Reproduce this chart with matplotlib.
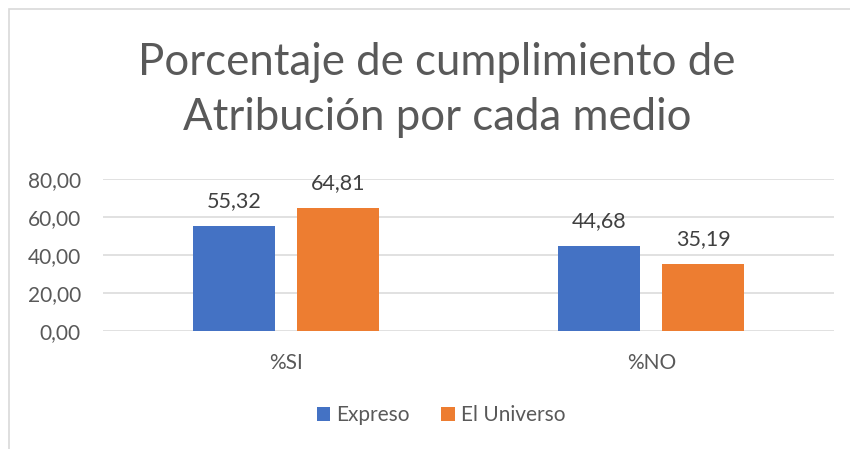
import numpy as np
import matplotlib
matplotlib.use('Agg')
import matplotlib.pyplot as plt
from matplotlib.patches import Rectangle

plt.rcParams['font.family'] = ['Lato', 'DejaVu Sans']

categorias = ['%SI', '%NO']
expreso = [55.32, 44.68]
el_universo = [64.81, 35.19]
series = ['Expreso', 'El Universo']
yticks = [0, 20, 40, 60, 80]

azul = '#4472C4'
naranja = '#ED7D31'
gris = '#595959'

fig = plt.figure(figsize=(8.5, 4.49), dpi=100)
# chart area border (cut off at right and bottom like the original)
fig.patches.append(Rectangle((9/850, -0.1), 1.2, 1 - 8.5/449 + 0.1,
                             transform=fig.transFigure, fill=False,
                             edgecolor='#d9d9d9', linewidth=1.2))

ax = fig.add_axes([103/850, 118/449, 731/850, 152/449])

x = np.arange(len(categorias))
w = 0.224
off = 0.142
b1 = ax.bar(x - off, expreso, w, color=azul, label=series[0], zorder=3)
b2 = ax.bar(x + off, el_universo, w, color=naranja, label=series[1], zorder=3)

for bars, vals in ((b1, expreso), (b2, el_universo)):
    for r, v in zip(bars, vals):
        ax.annotate(f'{v:.2f}'.replace('.', ','), (r.get_x() + r.get_width()/2, v),
                    xytext=(0, 13.5), textcoords='offset points',
                    ha='center', va='baseline', fontsize=15.5, color='#404040')

ax.set_xlim(-0.5, 1.5)
ax.set_ylim(0, 80)
ax.set_yticks(yticks)
ax.set_yticklabels([f'{t:.2f}'.replace('.', ',') for t in yticks])
ax.set_xticks(x)
ax.set_xticklabels(categorias)
ax.tick_params(axis='y', length=0, pad=16, labelsize=15, labelcolor=gris)
ax.tick_params(axis='x', length=0, pad=16, labelsize=15, labelcolor=gris)
ax.grid(axis='y', color='#d9d9d9', linewidth=1.1, zorder=0)
for s in ax.spines.values():
    s.set_visible(False)

fig.text(0.514, 1 - 75/449, 'Porcentaje de cumplimiento de', ha='center',
         va='baseline', fontsize=31.5, color=gris)
fig.text(0.514, 1 - 130/449, 'Atribución por cada medio', ha='center',
         va='baseline', fontsize=31.5, color=gris)

fig.legend(loc='center', bbox_to_anchor=(441/850, 1 - 415/449), ncol=2,
           frameon=False, fontsize=15, labelcolor=gris, handlelength=0.65,
           handleheight=0.65, handletextpad=0.3, columnspacing=1.5)

fig.savefig('out.png', dpi=100)
